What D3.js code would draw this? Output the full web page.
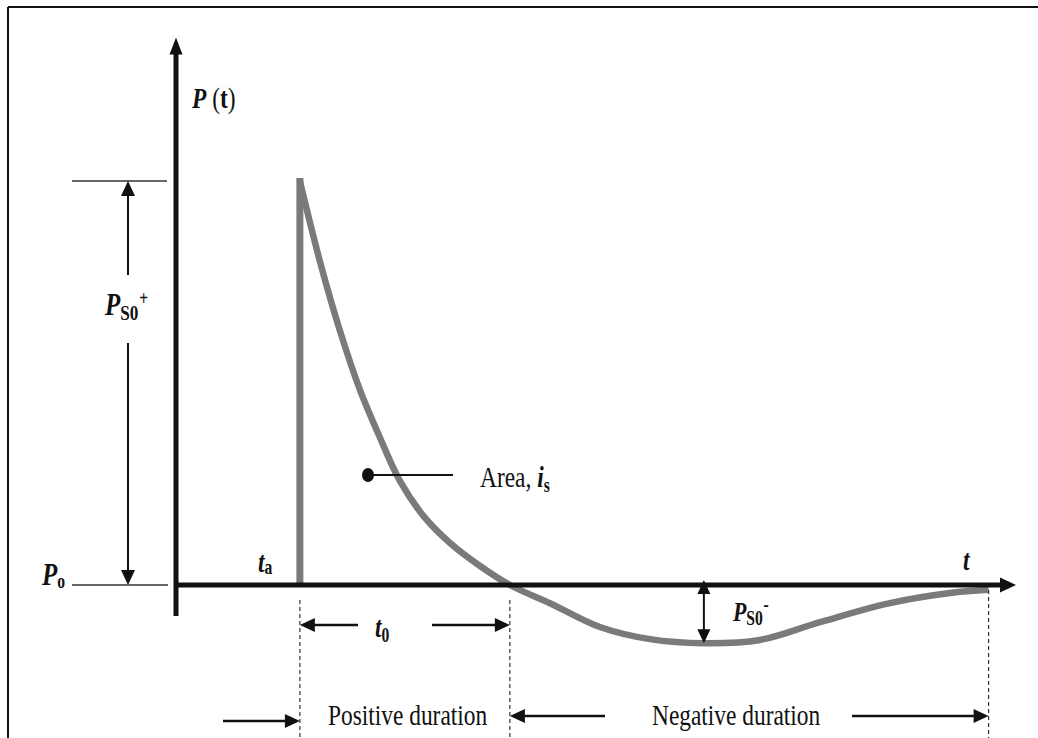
<!DOCTYPE html>
<html>
<head>
<meta charset="utf-8">
<script src="https://cdn.jsdelivr.net/npm/d3@7/dist/d3.min.js"></script>
<style>
  html, body { margin: 0; padding: 0; background: #fff; }
  svg { display: block; }
  text { font-family: "Liberation Serif", "Times New Roman", serif; fill: #111; }
</style>
</head>
<body>
<svg id="chart" width="1038" height="738"></svg>
<script>
// Blast overpressure history P(t): time normalised by the positive duration,
// pressure normalised by the peak side-on overpressure.
const arrivalTime = 0.59;          // t_a
const positiveEnd = 1.59;          // t_a + t_0
const negativeEnd = 3.87;          // end of the negative phase
const minTime = 2.514;             // time of peak negative pressure
const peakPressure = 1.0;          // P_S0+
const minPressure = -0.144;        // -P_S0-

// Pressure record after arrival (positive and negative phases)
const timeValues = [0.59, 0.686, 0.781, 0.876, 0.972, 1.067, 1.186, 1.305, 1.448, 1.59,
                    1.781, 2.019, 2.257, 2.514, 2.781, 3.067, 3.40, 3.686, 3.87];
const pressureValues = [1.0, 0.800, 0.629, 0.483, 0.364, 0.257, 0.166, 0.104, 0.047, 0.0,
                        -0.045, -0.104, -0.134, -0.144, -0.136, -0.092, -0.045, -0.020, -0.012];

const axisTimeMax = 4.01;
const axisPressureMin = -0.077;
const axisPressureMax = 1.355;

const svg = d3.select("#chart");
const x = d3.scaleLinear().domain([0, axisTimeMax]).range([176, 1018]);
const y = d3.scaleLinear().domain([0, 1]).range([585, 181]);

const ink = "#111";
const curveGray = "#7a7a7a";

// Outer frame
svg.append("line").attr("x1", 8).attr("x2", 1038).attr("y1", 7).attr("y2", 7)
  .attr("stroke", ink).attr("stroke-width", 2);
svg.append("line").attr("x1", 8).attr("x2", 8).attr("y1", 7).attr("y2", 738)
  .attr("stroke", ink).attr("stroke-width", 2);

// Triangle arrowhead with its tip at (tx, ty), pointing in direction dir
function arrowHead(tx, ty, dir, len, half) {
  const d = { up: [0, 1], down: [0, -1], left: [1, 0], right: [-1, 0] }[dir];
  const bx = tx + d[0] * len, by = ty + d[1] * len;
  const px = d[1] * half, py = d[0] * half;
  svg.append("path")
    .attr("d", `M${tx},${ty}L${bx + px},${by + py}L${bx - px},${by - py}Z`)
    .attr("fill", ink);
}
function seg(x1, y1, x2, y2, w, color, dash) {
  const l = svg.append("line").attr("x1", x1).attr("y1", y1).attr("x2", x2).attr("y2", y2)
    .attr("stroke", color || ink).attr("stroke-width", w);
  if (dash) l.attr("stroke-dasharray", dash);
  return l;
}

// Pressure trace (drawn under the axes)
svg.append("line")
  .attr("x1", x(arrivalTime)).attr("x2", x(arrivalTime))
  .attr("y1", y(0)).attr("y2", y(peakPressure) - 3)
  .attr("stroke", curveGray).attr("stroke-width", 7);

const trace = d3.line()
  .x((d, i) => x(timeValues[i]))
  .y(d => y(d))
  .curve(d3.curveCatmullRom.alpha(0.5));
svg.append("path")
  .attr("d", trace(pressureValues))
  .attr("fill", "none")
  .attr("stroke", curveGray)
  .attr("stroke-width", 6.5);

// Axes
seg(x(0), y(axisPressureMin), x(0), y(axisPressureMax) + 14, 5);
arrowHead(x(0), y(axisPressureMax), "up", 17, 6.5);
seg(x(0) - 2, y(0), x(axisTimeMax) - 14, y(0), 5);
arrowHead(x(axisTimeMax) - 2, y(0), "right", 16, 7.5);

// Reference lines for P_S0+ and P_o
seg(72, y(peakPressure), 167, y(peakPressure), 1.5, "#333");
seg(72, y(0), 168, y(0), 1.5, "#333");

// P_S0+ dimension arrow
seg(128, y(peakPressure) + 10, 128, 275, 2);
arrowHead(128, y(peakPressure), "up", 15, 7);
seg(128, 343, 128, y(0) - 10, 2);
arrowHead(128, y(0), "down", 15, 7);

// P_S0- dimension arrow
seg(x(minTime), y(0) + 4, x(minTime), y(minPressure) - 4, 2);
arrowHead(x(minTime), y(0) - 5, "up", 14, 6.5);
arrowHead(x(minTime), y(minPressure), "down", 14, 6.5);

// Dashed duration markers
seg(x(arrivalTime), 600, x(arrivalTime), 738, 1.2, "#333", "4,3");
seg(x(positiveEnd), 600, x(positiveEnd), 738, 1.2, "#333", "4,3");
seg(x(negativeEnd), 590, x(negativeEnd), 738, 1.2, "#333", "4,3");

// t_0 arrows
seg(x(arrivalTime) + 10, 625, 358, 625, 2.5);
arrowHead(x(arrivalTime), 625, "left", 15, 7);
seg(432, 625, x(positiveEnd) - 10, 625, 2.5);
arrowHead(x(positiveEnd), 625, "right", 15, 7);

// Duration arrows along the bottom
seg(223, 721, x(arrivalTime) - 10, 721, 2.5);
arrowHead(x(arrivalTime), 721, "right", 15, 7);
seg(x(positiveEnd) + 10, 716, 605, 716, 2.5);
arrowHead(x(positiveEnd), 716, "left", 15, 7);
seg(852, 716, x(negativeEnd) - 10, 716, 2.5);
arrowHead(x(negativeEnd), 716, "right", 15, 7);

// Area pointer
svg.append("line").attr("x1", 368).attr("x2", 453).attr("y1", 475).attr("y2", 475)
  .attr("stroke", ink).attr("stroke-width", 2);
svg.append("ellipse").attr("cx", 368).attr("cy", 475).attr("rx", 6).attr("ry", 7).attr("fill", ink);

// Labels (condensed serif)
const SX = 0.78;
function label(tx, ty, parts) {
  const t = svg.append("text")
    .attr("transform", `translate(${tx},${ty}) scale(${SX},1)`);
  parts.forEach(p => {
    const s = t.append("tspan").text(p.text)
      .attr("font-size", p.size || 30)
      .attr("font-weight", p.bold ? "bold" : "normal")
      .attr("font-style", p.italic ? "italic" : "normal");
    if (p.dy) s.attr("dy", p.dy);
    if (p.dx) s.attr("dx", p.dx);
  });
  return t;
}

label(192, 108, [
  { text: "P", bold: true, italic: true },
  { text: " (", size: 30 },
  { text: "t", bold: true },
  { text: ")" }
]);
label(105, 315, [
  { text: "P", bold: true, italic: true, size: 32 },
  { text: "S0", bold: true, size: 22, dy: 5 },
  { text: "+", bold: true, size: 20, dy: -15, dx: 1 }
]);
label(42, 585, [
  { text: "P", bold: true, italic: true, size: 32 },
  { text: "o", bold: true, size: 20, dy: 3 }
]);
label(258, 572, [
  { text: "t", bold: true, italic: true, size: 30 },
  { text: "a", bold: true, size: 20, dy: 2 }
]);
label(375, 637, [
  { text: "t", bold: true, italic: true, size: 30 },
  { text: "0", bold: true, size: 20, dy: 5 }
]);
label(733, 621, [
  { text: "P", bold: true, italic: true, size: 28 },
  { text: "S0", bold: true, size: 20, dy: 4 },
  { text: "-", bold: true, size: 20, dy: -14, dx: 1 }
]);
label(480, 487, [
  { text: "Area, " },
  { text: "i", bold: true, italic: true },
  { text: "s", bold: true, size: 20, dy: 5 }
]);
label(963, 570, [
  { text: "t", bold: true, italic: true, size: 30 }
]);
label(328, 725, [{ text: "Positive duration" }]);
label(652, 725, [{ text: "Negative duration" }]);
</script>
</body>
</html>
